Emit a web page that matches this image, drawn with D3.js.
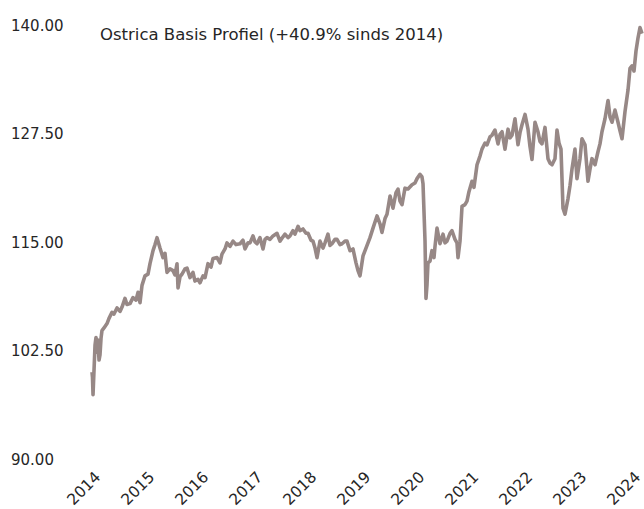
<!DOCTYPE html>
<html>
<head>
<meta charset="utf-8">
<script src="https://cdn.jsdelivr.net/npm/d3@7"></script>
<style>
  body { margin: 0; background: #fff; }
  svg text { font-family: "Century Gothic", "URW Gothic", "DejaVu Sans", sans-serif; fill: #262626; }
</style>
</head>
<body>
<div id="chart"><svg width="644" height="509"></svg></div>
<script>
// Chart data (decimal year, index value)
let years = [
  2014.000, 2014.009, 2014.019, 2014.056, 2014.074, 2014.093, 2014.111, 2014.130, 2014.148, 2014.167,
  2014.185, 2014.222, 2014.278, 2014.315, 2014.370, 2014.407, 2014.463, 2014.519, 2014.556, 2014.611,
  2014.648, 2014.704, 2014.759, 2014.815, 2014.852, 2014.889, 2014.926, 2014.981, 2015.037, 2015.074,
  2015.130, 2015.167, 2015.204, 2015.259, 2015.315, 2015.352, 2015.389, 2015.444, 2015.500, 2015.537,
  2015.574, 2015.593, 2015.630, 2015.667, 2015.722, 2015.759, 2015.815, 2015.870, 2015.907, 2015.963,
  2016.000, 2016.056, 2016.093, 2016.148, 2016.204, 2016.241, 2016.315, 2016.370, 2016.407, 2016.463,
  2016.500, 2016.556, 2016.611, 2016.667, 2016.741, 2016.796, 2016.833, 2016.889, 2016.926, 2016.981,
  2017.019, 2017.056, 2017.111, 2017.167, 2017.204, 2017.241, 2017.296, 2017.352, 2017.426, 2017.481,
  2017.537, 2017.574, 2017.630, 2017.667, 2017.722, 2017.759, 2017.815, 2017.852, 2017.907, 2017.963,
  2018.000, 2018.056, 2018.093, 2018.130, 2018.167, 2018.222, 2018.278, 2018.315, 2018.370, 2018.407,
  2018.444, 2018.500, 2018.537, 2018.593, 2018.630, 2018.685, 2018.722, 2018.778, 2018.833, 2018.889,
  2018.926, 2018.963, 2019.019, 2019.074, 2019.148, 2019.204, 2019.278, 2019.333, 2019.370, 2019.426,
  2019.463, 2019.519, 2019.574, 2019.630, 2019.667, 2019.704, 2019.741, 2019.796, 2019.852, 2019.926,
  2019.981, 2020.019, 2020.074, 2020.111, 2020.130, 2020.167, 2020.185, 2020.204, 2020.222, 2020.259,
  2020.296, 2020.333, 2020.352, 2020.389, 2020.444, 2020.500, 2020.537, 2020.574, 2020.630, 2020.667,
  2020.722, 2020.759, 2020.778, 2020.815, 2020.852, 2020.907, 2020.944, 2020.981, 2021.037, 2021.074,
  2021.130, 2021.185, 2021.222, 2021.278, 2021.315, 2021.370, 2021.407, 2021.463, 2021.519, 2021.556,
  2021.593, 2021.648, 2021.704, 2021.741, 2021.778, 2021.833, 2021.889, 2021.926, 2021.963, 2022.019,
  2022.074, 2022.111, 2022.148, 2022.204, 2022.259, 2022.296, 2022.333, 2022.389, 2022.444, 2022.481,
  2022.519, 2022.574, 2022.611, 2022.648, 2022.685, 2022.722, 2022.759, 2022.815, 2022.852, 2022.889,
  2022.944, 2022.981, 2023.037, 2023.074, 2023.130, 2023.185, 2023.222, 2023.259, 2023.315, 2023.370,
  2023.407, 2023.444, 2023.500, 2023.556, 2023.593, 2023.630, 2023.685, 2023.741, 2023.778, 2023.815,
  2023.870, 2023.926, 2023.963, 2024.000, 2024.037, 2024.074, 2024.111, 2024.148, 2024.185
];
let values = [
  100.0, 99.4, 97.4, 103.1, 104.0, 102.3, 103.7, 101.4, 102.0, 103.9,
  104.8, 105.1, 105.6, 106.2, 106.9, 106.7, 107.4, 107.0, 107.5, 108.5,
  107.8, 107.9, 108.6, 108.3, 109.2, 108.0, 110.0, 111.1, 111.3, 112.5,
  114.0, 114.7, 115.5, 114.3, 113.2, 113.7, 111.5, 111.9, 111.7, 111.2,
  112.5, 109.7, 111.0, 111.3, 111.9, 112.0, 110.9, 111.5, 110.5, 110.7,
  110.3, 111.1, 110.9, 112.5, 112.1, 113.1, 113.2, 112.6, 113.6, 114.2,
  114.9, 114.5, 115.1, 114.7, 114.8, 115.2, 114.2, 114.9, 114.9, 115.7,
  115.0, 114.8, 115.5, 114.2, 115.3, 115.5, 115.3, 115.7, 116.0, 115.1,
  115.6, 115.9, 115.5, 115.7, 116.3, 115.9, 116.8, 116.3, 116.5, 116.0,
  116.0, 115.2, 115.1, 114.3, 113.2, 115.1, 114.3, 114.9, 115.9, 114.6,
  114.8, 115.3, 115.3, 114.7, 114.8, 115.1, 115.1, 114.0, 114.2, 112.6,
  111.7, 111.1, 113.4, 114.3, 115.5, 116.6, 118.0, 117.1, 116.1, 117.7,
  118.2, 120.3, 118.9, 120.7, 121.1, 119.7, 119.3, 121.2, 121.1, 121.6,
  121.8, 122.3, 122.8, 122.5, 121.7, 115.1, 108.5, 110.1, 112.6, 112.8,
  114.0, 113.2, 114.5, 116.6, 114.8, 115.9, 114.9, 115.1, 116.0, 116.3,
  115.3, 114.9, 113.2, 115.1, 119.1, 119.3, 119.7, 120.8, 122.0, 121.3,
  123.9, 124.9, 125.7, 126.4, 126.2, 127.1, 127.3, 127.9, 126.3, 127.4,
  127.7, 125.7, 128.0, 127.0, 127.3, 129.2, 126.2, 127.6, 128.5, 129.7,
  128.0, 126.0, 124.5, 128.8, 127.7, 126.6, 126.3, 128.2, 124.6, 124.1,
  123.9, 124.6, 127.9, 126.4, 125.7, 118.9, 118.2, 120.0, 121.5, 123.4,
  125.7, 122.3, 124.6, 126.9, 126.2, 122.0, 123.4, 124.6, 123.9, 125.4,
  126.3, 127.7, 129.2, 131.3, 129.4, 128.8, 130.2, 128.8, 127.8, 126.9,
  130.0, 132.5, 135.0, 135.3, 134.7, 137.0, 138.5, 139.7, 139.0
];

let yTicks = [90, 102.5, 115, 127.5, 140];
let xTicks = [2014, 2015, 2016, 2017, 2018, 2019, 2020, 2021, 2022, 2023, 2024];
let title = "Ostrica Basis Profiel (+40.9% sinds 2014)";

let colors = {
  line: "#978886",
  text: "#262626"
};

let svg = d3.select("div#chart svg");

let x = d3.scaleLinear()
  .domain([2014, 2024])
  .range([92, 632]);
let y = d3.scaleLinear()
  .domain([90, 140])
  .range([459, 25]);

let series = years.map((yr, i) => ({ year: yr, value: values[i] }));

// Y axis labels (no axis line, no ticks)
let yAxis = svg.append("g")
  .attr("class", "axis axis_y")
  .attr("transform", "translate(11,0)")
  .call(d3.axisRight(y).tickValues(yTicks).tickFormat(d3.format(".2f")).tickSize(0));
yAxis.select(".domain").remove();
yAxis.selectAll("text")
  .attr("x", 0)
  .attr("dy", "0.35em")
  .style("font-size", "15px")
  .style("text-anchor", "start")
  .style("fill", colors.text);

// X axis labels, rotated
let xAxis = svg.append("g")
  .attr("class", "axis axis_x")
  .attr("transform", "translate(0,478)")
  .call(d3.axisBottom(x).tickValues(xTicks).tickFormat(d3.format("d")).tickSize(0));
xAxis.select(".domain").remove();
xAxis.selectAll(".tick text")
  .attr("x", 0)
  .attr("y", 0)
  .attr("dy", 0)
  .attr("transform", "translate(9,0) rotate(-45)")
  .style("font-size", "15.5px")
  .style("text-anchor", "end")
  .style("fill", colors.text);

// The series line
let line = d3.line()
  .x(d => x(d.year))
  .y(d => y(d.value));

svg.append("path")
  .datum(series)
  .attr("fill", "none")
  .attr("stroke", colors.line)
  .attr("stroke-width", 3.6)
  .attr("stroke-linejoin", "round")
  .attr("d", line);

// Title
svg.append("text")
  .attr("x", 100)
  .attr("y", 40)
  .text(title)
  .style("font-size", "16.5px")
  .style("fill", colors.text);
</script>
</body>
</html>
